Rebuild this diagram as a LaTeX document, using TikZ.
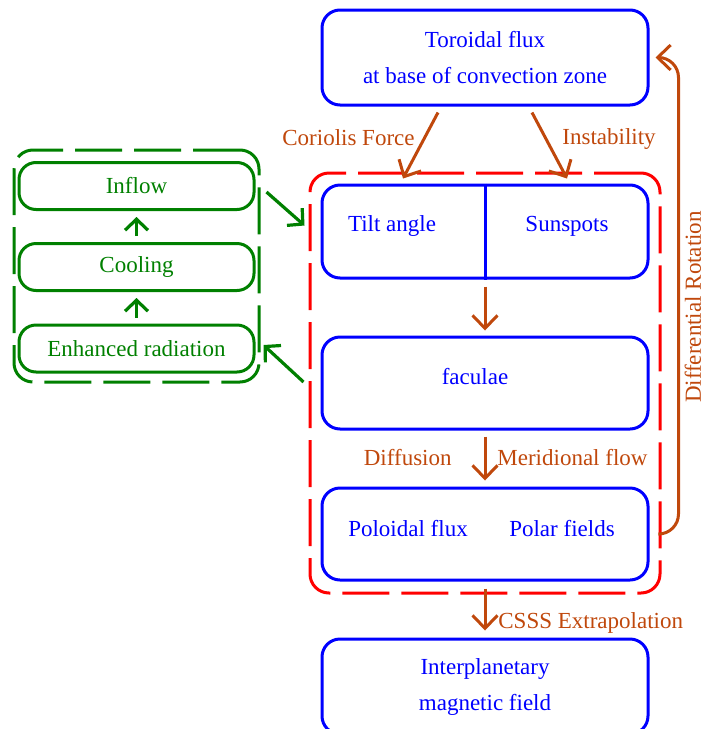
\documentclass[tikz,border=0pt]{standalone}
\usepackage{fontspec}
\setmainfont{Liberation Serif}
\usepackage{tikz}
\usetikzlibrary{arrows.meta}
\definecolor{rust}{RGB}{192,72,12}
\definecolor{leaf}{RGB}{0,128,0}

\begin{document}
\begin{tikzpicture}[x=0.5pt, y=-0.5pt,
    every node/.style={font=\fontsize{11.5}{13.8}\selectfont},
    bluebox/.style={draw=blue, line width=1.5pt, rounded corners=9pt, minimum width=163pt, minimum height=46pt, text=blue, align=center, inner sep=0pt},
    greenbox/.style={draw=leaf, line width=1.5pt, rounded corners=8.5pt, minimum width=117.5pt, minimum height=23.5pt, text=leaf, inner sep=0pt},
    dashframe/.style={dash pattern=on 23.5pt off 6pt, line width=1.5pt, rounded corners=9.5pt, inner sep=0pt},
    rarrow/.style={rust, line width=1.5pt, -{Straight Barb[length=6.5pt,width=12.5pt]}},
    garrow/.style={leaf, line width=1.6pt, -{Straight Barb[length=5.5pt,width=11.5pt]}},
    rlabel/.style={text=rust, inner sep=0pt}]
    \useasboundingbox (0,0) rectangle (704,729);
    % main chain
    \node[bluebox, minimum height=47.5pt] (toroidal) at (485,57.5) {Toroidal flux\\[4.2pt]at base of convection zone};
    \node[bluebox, minimum height=46.5pt] (tilt) at (485,231.5) {};
    \draw[blue, line width=1.5pt] (tilt.north) -- (tilt.south);
    \node[text=blue] (tiltangle) at (392,226) {Tilt angle};
    \node[text=blue] (sunspots) at (567,226) {Sunspots};
    \node[bluebox] (faculae) at (485,383) {};
    \node[text=blue] (faculaetext) at (475,377) {faculae};
    \node[bluebox] (poloidal) at (485,534) {};
    \node[text=blue] (poloidalflux) at (408,529) {Poloidal flux};
    \node[text=blue] (polarfields) at (562,529) {Polar fields};
    \node[bluebox, minimum height=47.5pt] (interplanetary) at (485,686.5) {Interplanetary\\[4.2pt]magnetic field};
    \node[dashframe, draw=red, minimum width=175pt, minimum height=210pt] (dynamo) at (485,383) {};
    % feedback loop
    \node[greenbox] (inflow) at (136.5,186) {Inflow};
    \node[greenbox] (cooling) at (136.5,267) {Cooling};
    \node[greenbox] (enhanced) at (136.5,348.5) {Enhanced radiation};
    \node[dashframe, draw=leaf, minimum width=122.5pt, minimum height=116pt] (feedback) at (136.5,266) {};
    \draw[garrow, shorten <=3pt, shorten >=3pt] (cooling) -- (inflow);
    \draw[garrow, shorten <=3pt, shorten >=3pt] (enhanced) -- (cooling);
    \draw[garrow] ([shift={(11,6)}]inflow.east) -- ([shift={(-4,54)}]dynamo.north west);
    \draw[garrow] ([shift={(-5,-1)}]dynamo.west) -- ([shift={(8,-3.5)}]enhanced.east);
    % transport
    \draw[rarrow] ([shift={(-47,6)}]toroidal.south) -- ([shift={(-82,-5)}]tilt.north);
    \draw[rarrow] ([shift={(47,6)}]toroidal.south) -- ([shift={(82,-5)}]tilt.north);
    \node[rlabel, anchor=east] (coriolis) at (415,138) {Coriolis Force};
    \node[rlabel, anchor=west] (instability) at (562,139) {Instability};
    \draw[rarrow, shorten <=3.5pt, shorten >=2.5pt] (tilt) -- (faculae);
    \draw[rarrow, shorten <=3pt, shorten >=3pt] (faculae) -- (poloidal);
    \node[rlabel, anchor=east] (diffusion) at (452,458) {Diffusion};
    \node[rlabel, anchor=west] (meridional) at (497,458) {Meridional flow};
    \draw[rarrow, shorten <=3.5pt, shorten >=3.5pt] (poloidal) -- (interplanetary);
    \node[rlabel, anchor=west] (csss) at (498,623) {CSSS Extrapolation};
    \draw[rarrow, rounded corners=10pt] ([xshift=5pt]poloidal.east) -| ([xshift=14.5pt]toroidal.east) -- ([xshift=3pt]toroidal.east);
    \node[rlabel, rotate=90] (rotation) at (693,307) {Differential Rotation};
\end{tikzpicture}
\end{document}
